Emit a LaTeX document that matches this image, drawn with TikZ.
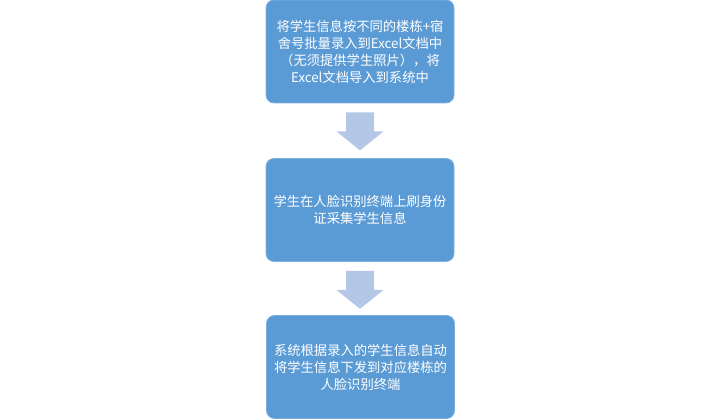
\documentclass[tikz,border=0pt]{standalone}
\usepackage{fontspec}
\setmainfont{Noto Sans CJK SC}
\definecolor{boxblue}{RGB}{91,155,213}
\definecolor{boxedge}{RGB}{125,175,222}
\definecolor{arrowblue}{RGB}{180,199,231}
\newcommand{\flowarrow}[1]{%
  \fill[arrowblue,shift={(#1.south)}] (-14,-9)--(14,-9)--(14,-28)--(23.5,-28)--(0,-47)--(-23.5,-28)--(-14,-28)--cycle;}

\begin{document}
\begin{tikzpicture}[x=1pt,y=1pt,
    stepbox/.style={draw=boxedge,line width=0.8pt,fill=boxblue,rounded corners=8pt,
      minimum width=188pt,minimum height=103pt,align=center,text=white,
      font=\fontsize{13.3}{17}\selectfont,inner sep=0pt}]
  \useasboundingbox (0,0) rectangle (720,420);
  \node[stepbox] (entry) at (360,368.5) {将学生信息按不同的楼栋+宿\\舍号批量录入到Excel文档中\\（无须提供学生照片），将\\Excel文档导入到系统中};
  \node[stepbox] (swipe) at (360,210) {学生在人脸识别终端上刷身份\\证采集学生信息};
  \node[stepbox] (push) at (360.5,53) {系统根据录入的学生信息自动\\将学生信息下发到对应楼栋的\\人脸识别终端};
  \flowarrow{entry}
  \flowarrow{swipe}
\end{tikzpicture}
\end{document}
